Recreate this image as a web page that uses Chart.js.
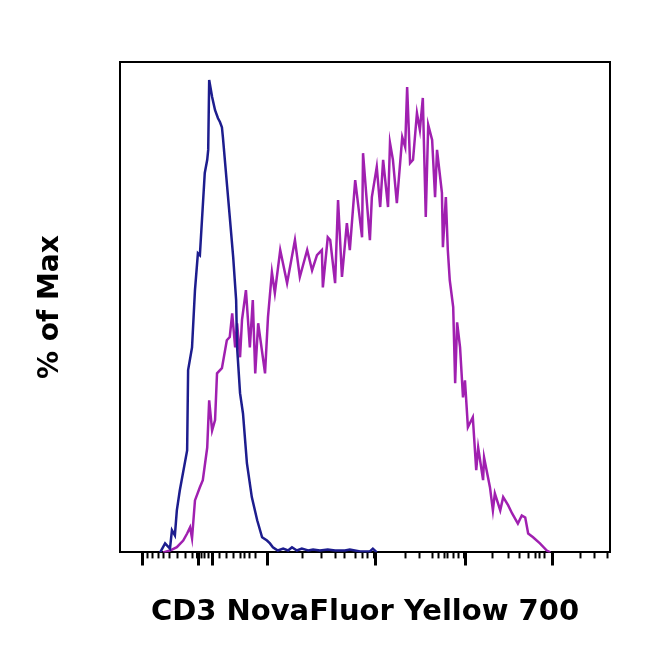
<!DOCTYPE html>
<html><head><meta charset="utf-8">
<script src="https://cdn.jsdelivr.net/npm/chart.js@4/dist/chart.umd.min.js"></script>
<style>html,body{margin:0;padding:0;background:#fff}#wrap{width:650px;height:662px}</style>
</head><body><div id="wrap"><canvas id="c"></canvas></div>
<script>
// channel positions (0-1000 display scale) and % of max
const controlX = [82,92,102,106,112,116,122,137,139,147,153,159,163,173,178,180,182,188,194,200,204,208,210,218,224,231,237,239,245,251,259,269,280,290,300,306,312,322,333,343,351,361,371,384,394,408,424,439,459,469,490,510,516,522,524];
const controlY = [0,1.9,0.8,4.7,3.6,8.9,13.1,21.6,38.6,43.4,55.5,63.3,62.9,80.3,83.1,85.2,100,96.4,93.6,91.9,91.1,90.0,87.9,78.2,71.0,62.5,53.4,43.4,33.7,29.4,18.9,11.7,6.8,3.2,2.5,1.9,1.1,0.4,0.8,0.4,1.1,0.4,0.8,0.4,0.6,0.4,0.6,0.4,0.4,0.6,0.2,0.2,0.8,0.2,0];
const cd3X = [88,102,116,129,137,143,147,153,163,169,178,182,188,194,198,208,218,224,229,235,239,245,249,257,265,271,276,282,296,302,310,316,327,341,357,367,382,392,402,412,414,424,429,439,445,453,463,469,480,494,496,504,510,514,524,531,537,547,551,557,565,576,582,586,592,598,606,612,618,624,629,637,643,647,657,659,665,669,673,680,684,688,694,700,704,710,720,727,731,741,743,755,761,765,776,782,792,800,812,820,827,833,843,857,871,878];
const cd3Y = [0,0.4,1.1,2.5,4.0,5.3,3.0,11.0,13.8,15.3,22.2,32.2,25.8,28.0,37.9,39.0,44.9,45.6,50.6,43.4,48.5,41.3,49.2,55.5,43.4,53.4,37.9,48.5,37.9,49.8,59.3,54.9,64.0,57.0,66.1,58.3,64.0,59.7,62.9,64.0,56.1,66.7,66.1,57.0,74.6,58.3,69.7,64.0,78.8,66.7,84.5,73.9,66.1,75.2,81.6,73.1,83.1,73.1,86.7,83.1,73.9,87.9,85.8,98.5,82.4,83.1,93.0,89.4,96.2,71.0,90.5,87.3,75.2,85.2,76.1,64.6,75.2,64.0,57.6,51.9,35.8,48.7,43.4,32.8,36.4,26.5,28.6,17.4,22.2,15.3,20.1,13.8,8.9,12.5,8.9,11.7,10.0,8.3,6.1,7.8,7.4,4.0,3.2,1.9,0.4,0];
const majorTicks = [45,159,188,300,520,704,882];
const minorTicks = [57,67,78,88,102,118,133,147,166,173,180,204,218,231,245,255,265,276,373,412,439,459,480,494,506,582,612,637,649,663,669,680,690,761,792,816,833,847,857,867,939,969,994];
const xTitle = 'CD3 NovaFluor Yellow 700';
const yTitle = '% of Max';

const majorTickPlugin = {
  id: 'majorTicks',
  afterDraw(chart) {
    const xs = chart.scales.x, ctx = chart.ctx;
    ctx.save();
    ctx.strokeStyle = '#000';
    ctx.lineWidth = 3;
    ctx.beginPath();
    majorTicks.forEach(v => {
      const p = Math.round(xs.getPixelForValue(v)) + 0.5;
      ctx.moveTo(p, xs.top);
      ctx.lineTo(p, xs.top + 13);
    });
    ctx.stroke();
    ctx.restore();
  }
};

const toPts = (xs, ys) => xs.map((x, i) => ({x, y: ys[i]}));
const edgeAxis = (pos) => ({
  type: 'linear', position: pos, display: true,
  min: 0, max: pos === 'top' ? 1000 : 103.8,
  ticks: {display: false},
  grid: {display: true, drawOnChartArea: false, drawTicks: false},
  border: {display: true, color: '#000', width: 2}
});

new Chart(document.getElementById('c'), {
  type: 'line',
  data: {
    datasets: [
      {label: 'Control', data: toPts(controlX, controlY), borderColor: '#1d1d8e', borderWidth: 2.5, pointRadius: 0, tension: 0, fill: false},
      {label: 'CD3', data: toPts(cd3X, cd3Y), borderColor: '#a020b0', borderWidth: 2.5, pointRadius: 0, tension: 0, fill: false}
    ]
  },
  options: {
    responsive: true, maintainAspectRatio: false, animation: false, devicePixelRatio: 1,
    layout: {padding: {left: 0, right: 40, top: 62, bottom: 32.2}},
    plugins: {legend: {display: false}, tooltip: {enabled: false}},
    scales: {
      x: {
        type: 'linear', position: 'bottom', min: 0, max: 1000,
        afterBuildTicks: s => { s.ticks = [...majorTicks, ...minorTicks].sort((a, b) => a - b).map(v => ({value: v})); },
        ticks: {display: false},
        grid: {display: true, drawOnChartArea: false, drawTicks: true, tickLength: 6, tickColor: '#000',
               tickWidth: c => (c.tick && majorTicks.includes(c.tick.value)) ? 3 : 2},
        border: {display: true, color: '#000', width: 2},
        title: {display: true, text: xTitle, color: '#000',
                font: {family: 'DejaVu Sans', size: 29, weight: 'bold'}, padding: {top: 36.6, bottom: 0}}
      },
      y: {
        type: 'linear', position: 'left', min: 0, max: 103.8,
        ticks: {display: false},
        grid: {display: true, drawOnChartArea: false, drawTicks: false},
        border: {display: true, color: '#000', width: 2},
        title: {display: true, text: yTitle, color: '#000',
                font: {family: 'DejaVu Sans', size: 28, weight: 'bold'}, padding: {top: 34.2, bottom: 52.2}}
      },
      x2: edgeAxis('top'),
      y2: edgeAxis('right')
    }
  },
  plugins: [majorTickPlugin]
});
</script></body></html>
